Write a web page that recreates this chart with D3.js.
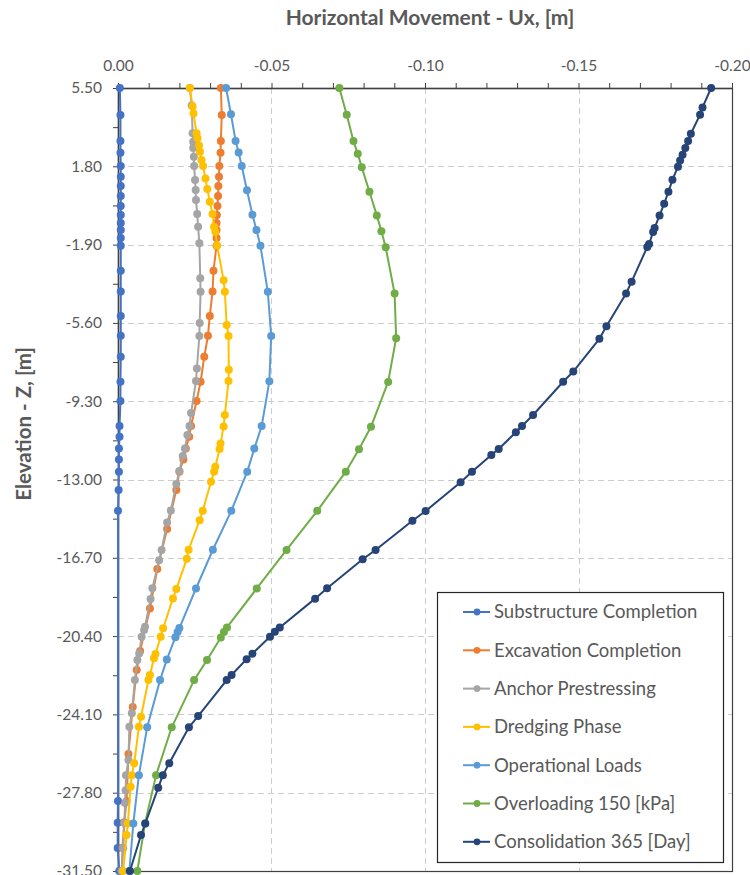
<!DOCTYPE html>
<html>
<head>
<meta charset="utf-8">
<script src="https://cdn.jsdelivr.net/npm/d3@7"></script>
<style>
  html, body { margin: 0; padding: 0; background: #fff; }
  svg { display: block; font-family: Lato, "Open Sans", sans-serif; }
</style>
</head>
<body>
<svg id="chart" width="750" height="875"></svg>
<script>
// ---- Data: [elevation Z (m), horizontal movement Ux (m)] ----
const seriesNames = [
  "Substructure Completion", "Excavation Completion", "Anchor Prestressing",
  "Dredging Phase", "Operational Loads", "Overloading 150 [kPa]", "Consolidation 365 [Day]"
];
const seriesColors = ["#4472C4", "#ED7D31", "#A5A5A5", "#FFC000", "#5B9BD5", "#70AD47", "#264478"];

const substructure = [
  [5.5,-0.0006],[4.22,-0.0008],[2.99,-0.0008],[2.44,-0.0008],[1.81,-0.0009],[1.31,-0.0009],
  [0.87,-0.0009],[0.40,-0.0009],[-0.08,-0.0009],[-0.50,-0.0009],[-0.88,-0.0009],[-1.21,-0.0009],
  [-1.59,-0.0009],[-1.95,-0.0009],[-3.13,-0.0009],[-4.12,-0.0009],[-5.27,-0.0009],[-6.21,-0.0009],
  [-7.20,-0.0009],[-8.38,-0.0008],[-9.29,-0.0008],[-10.47,-0.0005],[-10.98,-0.0005],[-11.53,-0.0003],
  [-12.05,-0.0003],[-12.63,-0.0003],[-13.50,-0.0002],[-14.48,0.0000],[-28.19,0.0000],
  [-29.22,0.0001],[-30.41,0.0001],[-31.5,-0.0004]
];
const excavation = [
  [5.5,-0.0335],[4.22,-0.0338],[2.99,-0.0335],[2.44,-0.0334],[1.81,-0.0330],[1.31,-0.0329],
  [0.87,-0.0327],[0.40,-0.0326],[-0.08,-0.0324],[-0.50,-0.0322],[-0.88,-0.0321],[-1.21,-0.0321],
  [-1.59,-0.0321],[-1.95,-0.0321],[-3.13,-0.0311],[-4.12,-0.0308],[-5.27,-0.0299],[-6.21,-0.0293],
  [-7.20,-0.0281],[-8.38,-0.0269],[-9.29,-0.0256],[-10.47,-0.0238],[-10.98,-0.0232],[-11.53,-0.0221],
  [-12.05,-0.0213],[-12.63,-0.0200],[-13.50,-0.0190],[-15.34,-0.0160],[-17.23,-0.0128],
  [-19.10,-0.0104],[-21.10,-0.0072],[-22.00,-0.0061],[-23.75,-0.0048],[-25.97,-0.0034],
  [-28.20,-0.0028],[-29.20,-0.0020],[-30.40,-0.0015],[-31.5,-0.0012]
];
const anchor = [
  [5.5,-0.0234],[4.67,-0.0240],[3.36,-0.0243],[2.96,-0.0245],[2.66,-0.0245],[2.25,-0.0247],
  [1.81,-0.0248],[1.15,-0.0251],[0.68,-0.0253],[0.21,-0.0254],[-0.45,-0.0258],[-1.06,-0.0261],
  [-1.84,-0.0265],[-3.49,-0.0268],[-4.13,-0.0269],[-5.61,-0.0266],[-6.22,-0.0265],[-7.75,-0.0257],
  [-8.35,-0.0254],[-9.86,-0.0238],[-10.47,-0.0233],[-10.90,-0.0226],[-11.54,-0.0218],[-11.89,-0.0211],
  [-12.60,-0.0200],[-13.21,-0.0190],[-14.47,-0.0172],[-15.03,-0.0160],[-16.33,-0.0142],[-16.81,-0.0134],
  [-18.14,-0.0112],[-18.65,-0.0106],[-19.96,-0.0088],[-20.11,-0.0085],[-20.43,-0.0077],[-21.22,-0.0069],
  [-21.53,-0.0063],[-22.48,-0.0055],[-24.05,-0.0045],[-24.68,-0.0037],[-26.26,-0.0034],[-26.97,-0.0026],
  [-27.68,-0.0025],[-28.29,-0.0023],[-29.23,-0.0021],[-30.42,-0.0017],[-31.5,-0.0012]
];
const dredging = [
  [5.5,-0.0234],[4.62,-0.0243],[4.30,-0.0246],[3.36,-0.0256],[3.12,-0.0259],[2.78,-0.0264],
  [2.49,-0.0267],[2.10,-0.0272],[1.81,-0.0277],[1.22,-0.0285],[0.73,-0.0291],[0.13,-0.0299],
  [-0.45,-0.0308],[-1.06,-0.0313],[-1.29,-0.0317],[-1.94,-0.0323],[-3.59,-0.0344],[-4.13,-0.0348],
  [-5.70,-0.0354],[-6.22,-0.0360],[-7.81,-0.0361],[-8.35,-0.0360],[-9.95,-0.0348],[-10.49,-0.0344],
  [-11.30,-0.0334],[-11.56,-0.0331],[-12.40,-0.0317],[-12.63,-0.0313],[-13.11,-0.0303],[-14.48,-0.0276],
  [-14.92,-0.0266],[-16.32,-0.0230],[-16.75,-0.0224],[-18.18,-0.0190],[-18.62,-0.0179],[-20.03,-0.0147],
  [-20.43,-0.0139],[-21.25,-0.0122],[-21.45,-0.0117],[-22.24,-0.0104],[-22.48,-0.0099],[-24.21,-0.0075],
  [-24.68,-0.0068],[-26.41,-0.0053],[-26.97,-0.0045],[-27.52,-0.0041],[-29.25,-0.0032],[-29.80,-0.0028],
  [-31.5,-0.0017]
];
const operational = [
  [5.5,-0.0352],[4.26,-0.0368],[3.00,-0.0383],[2.45,-0.0393],[1.81,-0.0403],[0.67,-0.0420],
  [-0.49,-0.0438],[-1.21,-0.0451],[-1.96,-0.0464],[-4.13,-0.0488],[-6.22,-0.0499],[-8.36,-0.0493],
  [-10.47,-0.0468],[-11.54,-0.0444],[-12.63,-0.0421],[-14.48,-0.0369],[-16.32,-0.0309],[-18.15,-0.0254],
  [-20.02,-0.0200],[-20.21,-0.0194],[-20.45,-0.0187],[-21.51,-0.0159],[-22.48,-0.0137],[-24.71,-0.0095],
  [-26.97,-0.0068],[-29.25,-0.0050],[-31.5,-0.0037]
];
const overloading = [
  [5.5,-0.0721],[4.24,-0.0745],[2.99,-0.0767],[2.39,-0.0781],[1.75,-0.0794],[0.60,-0.0819],
  [-0.52,-0.0843],[-1.27,-0.0858],[-2.03,-0.0872],[-4.21,-0.0901],[-6.32,-0.0906],[-8.39,-0.0880],
  [-10.51,-0.0824],[-11.57,-0.0785],[-12.63,-0.0742],[-14.48,-0.0649],[-16.33,-0.0549],[-18.15,-0.0452],
  [-19.99,-0.0355],[-20.21,-0.0345],[-20.47,-0.0335],[-21.53,-0.0290],[-22.48,-0.0248],[-24.71,-0.0175],
  [-26.97,-0.0124],[-29.25,-0.0088],[-31.5,-0.0063]
];
const consolidation = [
  [5.5,-0.1932],[4.58,-0.1904],[4.24,-0.1896],[3.34,-0.1866],[2.99,-0.1857],[2.67,-0.1848],
  [2.35,-0.1839],[2.07,-0.1831],[1.78,-0.1824],[1.16,-0.1806],[0.60,-0.1793],[0.03,-0.1779],
  [-0.52,-0.1764],[-1.11,-0.1748],[-1.30,-0.1743],[-1.87,-0.1730],[-2.01,-0.1724],[-3.65,-0.1673],
  [-4.21,-0.1655],[-5.76,-0.1591],[-6.35,-0.1568],[-7.90,-0.1483],[-8.38,-0.1450],[-9.95,-0.1352],
  [-10.47,-0.1316],[-10.77,-0.1296],[-11.56,-0.1240],[-11.84,-0.1216],[-12.63,-0.1153],[-13.13,-0.1116],
  [-14.49,-0.1002],[-14.95,-0.0959],[-16.33,-0.0839],[-16.77,-0.0797],[-18.14,-0.0681],[-18.63,-0.0642],
  [-19.99,-0.0527],[-20.19,-0.0511],[-20.43,-0.0495],[-21.23,-0.0438],[-21.49,-0.0419],[-22.24,-0.0370],
  [-22.48,-0.0354],[-24.18,-0.0261],[-24.71,-0.0231],[-26.41,-0.0167],[-26.97,-0.0146],[-27.57,-0.0131],
  [-29.25,-0.0089],[-29.80,-0.0075],[-31.5,-0.0039]
];
const seriesData = [substructure, excavation, anchor, dredging, operational, overloading, consolidation];

const uxTicks = [0, -0.05, -0.10, -0.15, -0.20];
const elevTicks = [5.5, 1.8, -1.9, -5.6, -9.3, -13.0, -16.7, -20.4, -24.1, -27.8, -31.5];
const uxMinorTicks = d3.range(0, 21).map(i => -i * 0.01);
const elevMinorTicks = d3.range(0, 21).map(i => 5.5 - i * 1.85);

const xTitle = "Horizontal Movement - Ux, [m]";
const yTitle = "Elevation - Z, [m]";

// ---- Layout ----
const plot = { left: 118, right: 732, top: 88, bottom: 871 };
const svg = d3.select("#chart");
const textColor = "#595959";
const axisColor = "#404040";
const fmt = d => d3.format(".2f")(d).replace("−", "-");

const x = d3.scaleLinear().domain([0, -0.20]).range([plot.left, plot.right]);
const y = d3.scaleLinear().domain([5.5, -31.5]).range([plot.top, plot.bottom]);

// Gridlines
const grid = svg.append("g").attr("stroke", "#CCCCCC").attr("stroke-width", 1).attr("stroke-dasharray", "6,4");
grid.selectAll("line.v").data(uxTicks.slice(1, -1)).join("line")
  .attr("x1", d => Math.round(x(d)) + 0.5).attr("x2", d => Math.round(x(d)) + 0.5)
  .attr("y1", plot.top).attr("y2", plot.bottom);
grid.selectAll("line.h").data(elevTicks.slice(1, -1)).join("line")
  .attr("y1", d => Math.round(y(d)) + 0.5).attr("y2", d => Math.round(y(d)) + 0.5)
  .attr("x1", plot.left).attr("x2", plot.right);

// Plot border
svg.append("rect")
  .attr("x", plot.left + 0.5).attr("y", plot.top + 0.5)
  .attr("width", plot.right - plot.left).attr("height", plot.bottom - plot.top)
  .attr("fill", "none").attr("stroke", axisColor).attr("stroke-width", 1.2);

// Top axis
const xMinor = d3.axisTop(x).tickValues(uxMinorTicks).tickSize(5).tickFormat("");
svg.append("g").attr("transform", `translate(0,${plot.top})`).call(xMinor)
  .call(g => g.select(".domain").remove())
  .call(g => g.selectAll("line").attr("stroke", axisColor));
const xAxis = d3.axisTop(x).tickValues(uxTicks).tickSize(0).tickPadding(17).tickFormat(fmt);
svg.append("g").attr("transform", `translate(0,${plot.top})`).call(xAxis)
  .call(g => g.select(".domain").attr("stroke", axisColor).attr("stroke-width", 1.5))
  .call(g => g.selectAll("text").attr("fill", textColor).attr("font-size", 15.5)
    .attr("font-family", "Lato, sans-serif"));

// Left axis
const yMinor = d3.axisLeft(y).tickValues(elevMinorTicks).tickSize(5).tickFormat("");
svg.append("g").attr("transform", `translate(${plot.left},0)`).call(yMinor)
  .call(g => g.select(".domain").remove())
  .call(g => g.selectAll("line").attr("stroke", axisColor).attr("x2", -5).attr("x1", 1));
const yAxis = d3.axisLeft(y).tickValues(elevTicks).tickSize(0).tickPadding(16).tickFormat(fmt);
svg.append("g").attr("transform", `translate(${plot.left},0)`).call(yAxis)
  .call(g => g.select(".domain").attr("stroke", axisColor).attr("stroke-width", 1.5))
  .call(g => g.selectAll("text").attr("fill", textColor).attr("font-size", 15.5)
    .attr("font-family", "Lato, sans-serif"));

// Axis titles
svg.append("text").attr("x", 430).attr("y", 25)
  .attr("text-anchor", "middle").attr("fill", textColor)
  .attr("font-size", 21).attr("font-weight", "bold").text(xTitle);
svg.append("text").attr("transform", "translate(31,424) rotate(-90)")
  .attr("text-anchor", "middle").attr("fill", textColor)
  .attr("font-size", 20.5).attr("font-weight", "bold").text(yTitle);

// Series
const line = d3.line().x(d => x(d[1])).y(d => y(d[0]));
const seriesG = svg.append("g");
seriesData.forEach((data, i) => {
  const g = seriesG.append("g");
  g.append("path").datum(data).attr("d", line)
    .attr("fill", "none").attr("stroke", seriesColors[i]).attr("stroke-width", 2)
    .attr("stroke-linejoin", "round");
  g.selectAll("circle").data(data).join("circle")
    .attr("cx", d => x(d[1])).attr("cy", d => y(d[0])).attr("r", 4)
    .attr("fill", seriesColors[i]);
});

// Legend
const legend = { x: 437, y: 592, w: 286, h: 270, first: 20, step: 38.3 };
const lg = svg.append("g");
lg.append("rect").attr("x", legend.x + 0.5).attr("y", legend.y + 0.5)
  .attr("width", legend.w).attr("height", legend.h)
  .attr("fill", "#fff").attr("stroke", "#262626").attr("stroke-width", 1.2);
seriesNames.forEach((name, i) => {
  const cy = legend.y + legend.first + i * legend.step;
  const item = lg.append("g");
  item.append("line").attr("x1", legend.x + 26).attr("x2", legend.x + 53)
    .attr("y1", cy).attr("y2", cy).attr("stroke", seriesColors[i]).attr("stroke-width", 2);
  item.append("circle").attr("cx", legend.x + 40).attr("cy", cy).attr("r", 3.4).attr("fill", seriesColors[i]);
  item.append("text").attr("x", legend.x + 57).attr("y", cy).attr("dy", "0.35em")
    .attr("fill", textColor).attr("font-size", 18.5).text(name);
});
</script>
</body>
</html>
